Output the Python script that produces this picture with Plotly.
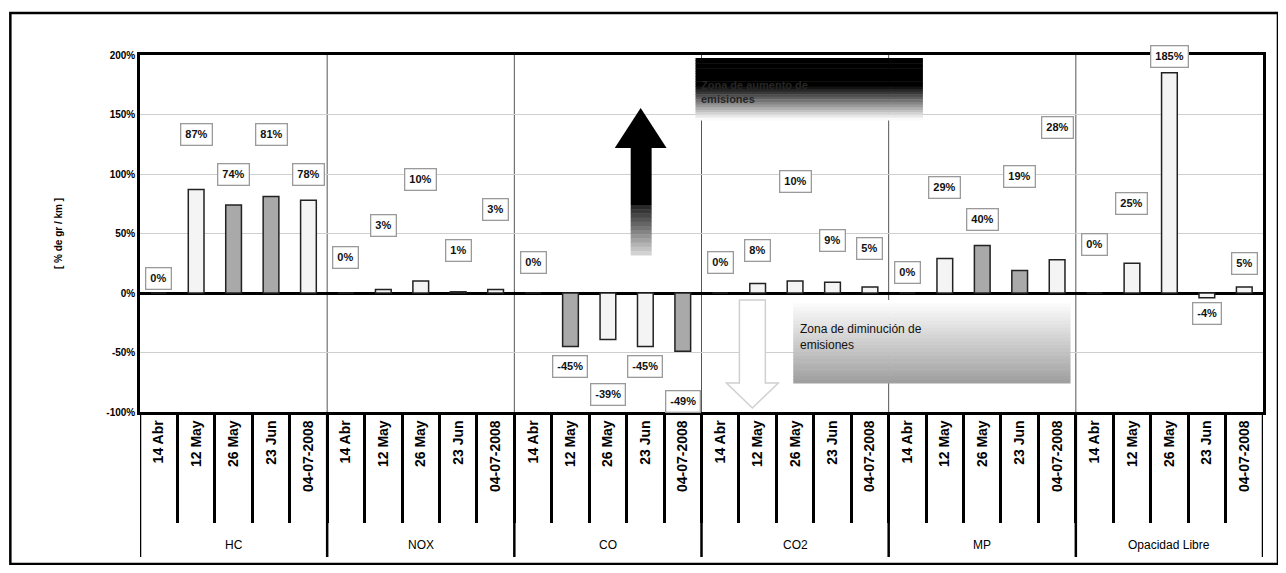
import plotly.graph_objects as go

groups = ["HC", "NOX", "CO", "CO2", "MP", "Opacidad Libre"]
dates = ["14 Abr", "12 May", "26 May", "23 Jun", "04-07-2008"]

hc = [0, 87, 74, 81, 78]
nox = [0, 3, 10, 1, 3]
co = [0, -45, -39, -45, -49]
co2 = [0, 8, 10, 9, 5]
mp = [0, 29, 40, 19, 28]
opacidad = [0, 25, 185, -4, 5]

y_ticks = [-100, -50, 0, 50, 100, 150, 200]
y_ticktext = ["-100%", "-50%", "0%", "50%", "100%", "150%", "200%"]

series = [hc, nox, co, co2, mp, opacidad]

# --- style lists (not data) ---
WHITE, GRAY = "#f4f4f4", "#a9a9a9"
bar_colors = [
    [WHITE, WHITE, GRAY, GRAY, WHITE],
    [WHITE, WHITE, WHITE, WHITE, WHITE],
    [WHITE, GRAY, WHITE, WHITE, GRAY],
    [WHITE, WHITE, WHITE, WHITE, WHITE],
    [WHITE, WHITE, GRAY, GRAY, WHITE],
    [WHITE, WHITE, WHITE, WHITE, WHITE],
]
# label placement (axis units) as moved by hand in the original
label_y = [
    [12, 133, 100, 133, 100],
    [30, 57, 95, 36, 70],
    [26, -62, -85, -62, -91],
    [26, 36, 94, 44, 37],
    [17, 89, 62, 98, 139],
    [41, 75, 199, -17, 25],
]

ng, nd = len(groups), len(dates)
xi = list(range(ng * nd))
yv = [v for vals in series for v in vals]
cols = [c for row in bar_colors for c in row]
ly_flat = [y for row in label_y for y in row]
tick_labels = ["<b>%s</b>" % d for _ in groups for d in dates]

fig = go.Figure()
fig.add_trace(go.Bar(
    x=xi, y=yv,
    marker=dict(color=cols, line=dict(color="#222222", width=1.5)),
    width=0.42, showlegend=False,
    customdata=[[g, d] for g in groups for d in dates],
    hovertemplate="%{customdata[0]} %{customdata[1]}: %{y}%<extra></extra>",
))

# page offset (default body margin) and reference plot area, in reference pixels
OFF = 8
FW, FH = 1286 - 2 * OFF, 573 - 2 * OFF
L, R, T, B = 140, 1266, 55, 412
def px(x):
    return (x - L) / (R - L)
def py(y):
    return (B - y) / (B - T)

annotations = []
for i, (v, ly) in enumerate(zip(yv, ly_flat)):
    annotations.append(dict(
        x=i, xref="x", y=ly, yref="y",
        text="<b>%d%%</b>" % v, showarrow=False,
        font=dict(family="Liberation Sans", size=11, color="#111111"),
        bgcolor="white", bordercolor="#9a9a9a", borderwidth=1.3, borderpad=4,
    ))
# group labels under the date labels
for k, g in enumerate(groups):
    annotations.append(dict(
        x=k * nd + (nd - 1) / 2, xref="x", y=py(545), yref="paper",
        text=g, showarrow=False, yanchor="middle",
        font=dict(family="Liberation Sans", size=12, color="black"),
    ))

shapes = []
# group separators: thin inside the plot, black below the axis
for k in range(ng + 1):
    xb = k * nd - 0.5
    if 0 < k < ng:
        shapes.append(dict(type="line", xref="x", yref="paper",
                           x0=xb, x1=xb, y0=0, y1=1,
                           line=dict(color="#555555", width=1), layer="below"))
    shapes.append(dict(type="line", xref="x", yref="paper",
                       x0=xb, x1=xb, y0=0, y1=py(557),
                       line=dict(color="black", width=2.5)))

# top gradient box ("Zona de aumento de emisiones")
bx0, bx1 = 697, 925
steps = 24
for s in range(steps):
    y0 = 58 + s * (62 / steps)
    y1 = y0 + 62 / steps + 0.5
    g = 0 if y0 < 84 else int(min(255, (y0 - 84) / 34 * 255))
    shapes.append(dict(type="rect", xref="paper", yref="paper",
                       x0=px(bx0), x1=px(bx1), y0=py(y1), y1=py(y0),
                       fillcolor="rgb(%d,%d,%d)" % (g, g, g), line=dict(width=0)))
annotations.append(dict(x=px(700), y=py(92), xref="paper", yref="paper",
                        xanchor="left", yanchor="middle", showarrow=False, align="left",
                        text="<b>Zona de aumento de<br>emisiones</b>",
                        font=dict(family="Liberation Sans", size=11, color="#262626")))

# bottom gradient box ("Zona de diminución de emisiones")
bx0, bx1 = 795, 1073
for s in range(steps):
    y0 = 300 + s * (83 / steps)
    y1 = y0 + 83 / steps + 0.5
    g = int(255 - (s / (steps - 1)) * 95)
    shapes.append(dict(type="rect", xref="paper", yref="paper",
                       x0=px(bx0), x1=px(bx1), y0=py(y1), y1=py(y0),
                       fillcolor="rgb(%d,%d,%d)" % (g, g, g), line=dict(width=0)))
annotations.append(dict(x=px(800), y=py(337), xref="paper", yref="paper",
                        xanchor="left", yanchor="middle", showarrow=False, align="left",
                        text="Zona de diminución de<br>emisiones",
                        font=dict(family="Liberation Sans", size=12, color="#111111")))

# up arrow (black, fading at the bottom)
shapes.append(dict(type="path", xref="paper", yref="paper",
                   path="M %f %f L %f %f L %f %f Z" % (px(616), py(148), px(642), py(108), px(668), py(148)),
                   fillcolor="black", line=dict(width=0)))
shapes.append(dict(type="rect", xref="paper", yref="paper",
                   x0=px(632), x1=px(653), y0=py(205), y1=py(147),
                   fillcolor="black", line=dict(width=0)))
for s in range(12):
    y0 = 205 + s * 50 / 12
    y1 = y0 + 50 / 12 + 0.5
    g = int(40 + s / 11 * 170)
    shapes.append(dict(type="rect", xref="paper", yref="paper",
                       x0=px(632), x1=px(653), y0=py(y1), y1=py(y0),
                       fillcolor="rgb(%d,%d,%d)" % (g, g, g), line=dict(width=0)))

# down arrow (light outline)
shapes.append(dict(type="path", xref="paper", yref="paper",
                   path="M %f %f L %f %f L %f %f L %f %f L %f %f L %f %f L %f %f Z" % (
                       px(741), py(300), px(767), py(300), px(767), py(383),
                       px(780), py(383), px(754), py(408), px(728), py(383), px(741), py(383)),
                   fillcolor="white", line=dict(color="#d0d0d0", width=1.5)))

# outer chart border
shapes.append(dict(type="rect", xref="paper", yref="paper",
                   x0=px(10), x1=px(1281), y0=py(564), y1=py(13),
                   line=dict(color="black", width=2.5), fillcolor="rgba(0,0,0,0)"))

fig.update_layout(
    width=FW, height=FH,
    margin=dict(l=L - OFF, r=FW - (R - OFF), t=T - OFF, b=FH - (B - OFF)),
    paper_bgcolor="white", plot_bgcolor="white",
    annotations=annotations, shapes=shapes,
    font=dict(family="Liberation Sans", color="black"),
)
fig.update_yaxes(
    range=[-100, 200], tickvals=y_ticks,
    ticktext=["<b>%s</b>" % t for t in y_ticktext],
    showgrid=True, gridcolor="#cfcfcf", gridwidth=1,
    zeroline=True, zerolinecolor="black", zerolinewidth=2.5,
    showline=True, linecolor="black", linewidth=2.5, mirror=True,
    tickfont=dict(family="Liberation Sans", size=10, color="black"),
    title=dict(text="<b>[ % de gr / km ]</b>", standoff=42,
               font=dict(family="Liberation Sans", size=10, color="black")),
    ticks="", fixedrange=True,
)
fig.update_xaxes(
    range=[-0.5, ng * nd - 0.5], tickvals=xi, ticktext=tick_labels, tickangle=-90,
    showline=True, linecolor="black", linewidth=2.5, mirror=True,
    showgrid=False, zeroline=False, ticks="",
    minor=dict(tickvals=[i + 0.5 for i in xi[:-1]], ticks="outside", ticklen=108,
               tickcolor="black", tickwidth=2.5, showgrid=False),
    tickfont=dict(family="Liberation Sans", size=14, color="black"),
    fixedrange=True,
)

fig.write_html("out.html")
